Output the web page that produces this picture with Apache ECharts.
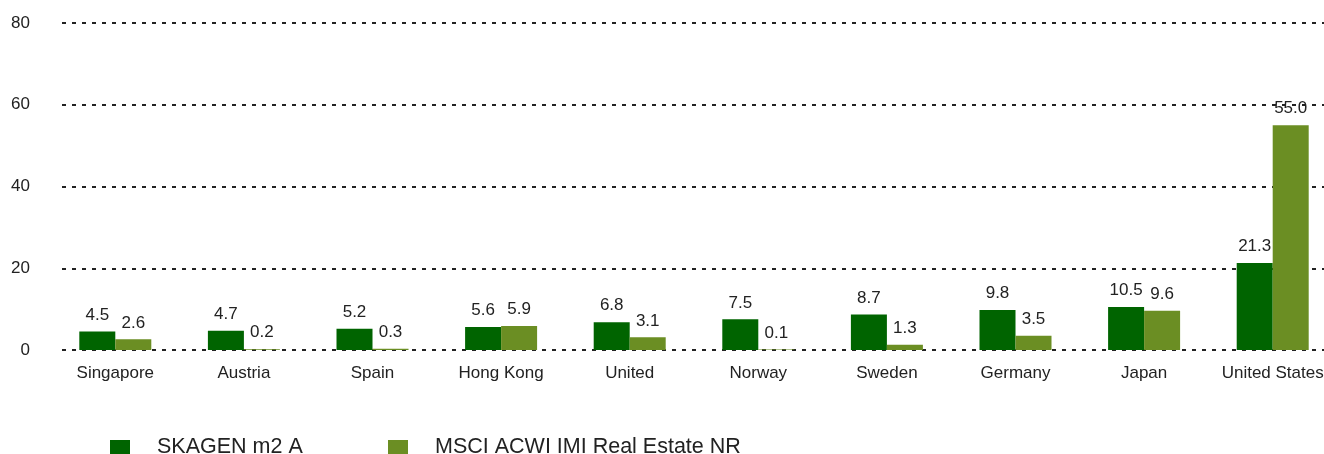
<!DOCTYPE html>
<html>
<head>
<meta charset="utf-8">
<script src="https://cdn.jsdelivr.net/npm/echarts@6/dist/echarts.min.js"></script>
<style>
html, body { margin: 0; padding: 0; background: #fff; }
#main { width: 1324px; height: 454px; }
</style>
</head>
<body>
<div id="main"></div>
<script>
// data
var categories = ['Singapore', 'Austria', 'Spain', 'Hong Kong', 'United', 'Norway', 'Sweden', 'Germany', 'Japan', 'United States'];
var skagen = [4.5, 4.7, 5.2, 5.6, 6.8, 7.5, 8.7, 9.8, 10.5, 21.3];
var msci = [2.6, 0.2, 0.3, 5.9, 3.1, 0.1, 1.3, 3.5, 9.6, 55.0];
var yTicks = [0, 20, 40, 60, 80];

var font = 'Liberation Sans, Arial, sans-serif';

var chart = echarts.init(document.getElementById('main'));
chart.setOption({
    animation: false,
    textStyle: { fontFamily: font },
    // grid 0 only carries the dotted lines and y labels, grid 1 carries the bars
    grid: [
        { left: 62, right: 0, top: 23, bottom: 104 },
        { left: 51, width: 1286, top: 23, bottom: 104, outerBoundsMode: 'none' }
    ],
    legend: [
        {
            data: ['SKAGEN m2 A'],
            left: 105, top: 431,
            itemWidth: 20, itemHeight: 14,
            icon: 'rect',
            textStyle: { fontSize: 21.5, color: '#222', fontFamily: font, padding: [0, 0, 0, 22] }
        },
        {
            data: ['MSCI ACWI IMI Real Estate NR'],
            left: 383, top: 431,
            itemWidth: 20, itemHeight: 14,
            icon: 'rect',
            textStyle: { fontSize: 21.5, color: '#222', fontFamily: font, padding: [0, 0, 0, 22] }
        }
    ],
    xAxis: [
        { type: 'category', gridIndex: 0, data: categories, show: false },
        {
            type: 'category', gridIndex: 1, data: categories,
            axisLine: { show: false },
            axisTick: { show: false },
            axisLabel: { fontSize: 17, color: '#222', margin: 15, interval: 0 }
        }
    ],
    yAxis: [
        {
            type: 'value', gridIndex: 0,
            min: yTicks[0], max: yTicks[yTicks.length - 1], interval: 20,
            axisLine: { show: false },
            axisTick: { show: false },
            axisLabel: { fontSize: 17, color: '#222', margin: 32 },
            splitLine: { lineStyle: { color: '#222', width: 2, type: [4, 6] } }
        },
        {
            type: 'value', gridIndex: 1,
            min: yTicks[0], max: yTicks[yTicks.length - 1], interval: 20,
            show: false,
            splitLine: { show: false }
        }
    ],
    series: [
        {
            name: 'SKAGEN m2 A',
            type: 'bar',
            xAxisIndex: 1, yAxisIndex: 1,
            data: skagen,
            barWidth: 36,
            barGap: '0%',
            itemStyle: { color: '#006400' },
            label: {
                show: true, position: 'top', distance: 8,
                fontSize: 17, color: '#222',
                formatter: function (p) { return p.value.toFixed(1); }
            }
        },
        {
            name: 'MSCI ACWI IMI Real Estate NR',
            type: 'bar',
            xAxisIndex: 1, yAxisIndex: 1,
            data: msci,
            barWidth: 36,
            barGap: '0%',
            itemStyle: { color: '#6b8e23' },
            label: {
                show: true, position: 'top', distance: 8,
                fontSize: 17, color: '#222',
                formatter: function (p) { return p.value.toFixed(1); }
            }
        }
    ]
});
</script>
</body>
</html>
